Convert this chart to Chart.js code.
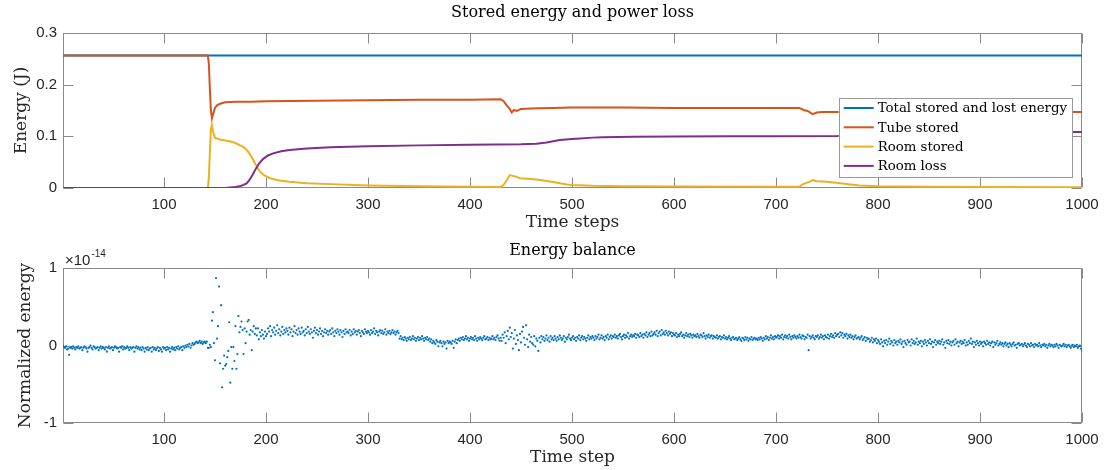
<!DOCTYPE html>
<html><head><meta charset="utf-8">
<script src="https://cdn.jsdelivr.net/npm/chart.js@4.4.1/dist/chart.umd.min.js"></script>
<style>
html,body{margin:0;padding:0;background:#fff;width:1108px;height:470px;overflow:hidden}
#top{position:absolute;left:0;top:0;width:1108px;height:240px}
#bot{position:absolute;left:0;top:240px;width:1108px;height:230px}
</style>
</head><body>
<div id="top"><canvas id="c1"></canvas></div>
<div id="bot"><canvas id="c2"></canvas></div>
<script>
// ---------- tick labels ----------
const stepTicks = [100,200,300,400,500,600,700,800,900,1000];
const energyTicks = [0,0.1,0.2,0.3];
const balanceTicks = [-1,0,1];

// ---------- top panel series (time step, energy J) ----------
const seriesLabels = ['Total stored and lost energy','Tube stored','Room stored','Room loss'];
const seriesColors = ['#0072BD','#D95319','#EDB120','#7E2F8E'];

const totalSteps  = [1,1000];
const totalValues = [0.2565,0.2565];

const tubeSteps  = [1,143,144,145,146,147,148,150,152,155,160,170,185,200,250,300,350,400,430,433,436,439,441,443,446,450,460,480,500,550,600,650,700,723,727,731,736,740,745,760,800,900,1000];
const tubeValues = [0.2565,0.2565,0.24,0.19,0.15,0.135,0.142,0.155,0.16,0.163,0.166,0.167,0.167,0.168,0.169,0.170,0.171,0.171,0.172,0.168,0.16,0.153,0.146,0.151,0.149,0.153,0.154,0.155,0.156,0.156,0.155,0.155,0.155,0.155,0.151,0.149,0.143,0.146,0.147,0.147,0.148,0.148,0.147];

const roomSteps  = [1,143,144,145,146,147,148,150,155,160,165,170,175,178,181,184,187,190,194,198,204,212,223,240,263,300,350,400,430,433,436,439,441,445,449,460,469,480,488,495,501,520,550,600,700,723,726,730,734,736,740,750,763,775,782,800,850,900,1000];
const roomValues = [0,0,0.02,0.07,0.115,0.122,0.11,0.097,0.094,0.092,0.09,0.087,0.082,0.079,0.074,0.066,0.056,0.045,0.032,0.025,0.019,0.015,0.012,0.009,0.0075,0.005,0.0035,0.0025,0.002,0.006,0.015,0.025,0.024,0.022,0.019,0.0175,0.0155,0.012,0.009,0.007,0.006,0.0045,0.0035,0.003,0.0025,0.0025,0.007,0.010,0.013,0.0155,0.013,0.012,0.009,0.0065,0.005,0.0035,0.0025,0.002,0.0015];

const lossSteps  = [1,160,170,175,178,181,184,187,190,193,197,202,207,215,223,240,263,300,350,400,450,465,475,488,500,508,520,530,560,600,650,700,760,775,790,805,820,850,900,1000];
const lossValues = [0,0,0.002,0.004,0.006,0.009,0.016,0.026,0.037,0.047,0.056,0.063,0.067,0.071,0.0735,0.0765,0.079,0.081,0.0825,0.0835,0.0845,0.0855,0.088,0.093,0.095,0.096,0.0975,0.098,0.099,0.0995,0.100,0.100,0.1005,0.102,0.104,0.106,0.107,0.1075,0.108,0.1085];

// ---------- bottom panel: normalized energy balance, hundredths of 1e-14, steps 1..1000 ----------
const BALANCE_UNIT = 0.01; // axis is in units of 1e-14
const balance001 = [
0,-2,-3,-1,-5,-4,-12,-3,-2,-4,-1,-3,-5,-2,-3,-1,-4,-3,-2,-6,
-3,-1,-2,-4,-8,-3,-2,0,-3,-5,-1,-2,-4,-3,-2,-6,-3,-1,-4,-2,
-3,-5,-2,-8,-3,-1,-4,-3,-2,-6,-3,-1,-2,-4,-3,-8,-2,-3,-1,-5,
-2,-4,-3,-1,-3,-6,-2,-4,-3,-2,-8,-3,-1,-4,-2,-5,-3,-6,-2,-4,
-8,-3,-5,-2,-6,-4,-3,-8,-2,-5,-3,-6,-4,-2,-7,-3,-5,-8,-2,-4];
const balance101 = [
-3,-6,-2,-5,-3,-8,-4,-2,-5,-3,-6,-2,-4,-1,-5,-3,-2,-6,-1,-3,
0,-2,1,-1,2,-3,0,3,1,2,4,5,3,4,6,3,5,2,4,5,
3,5,-3,-3,1,-2,32,43,3,-19,87,9,25,76,-23,52,-54,-30,-13,-26,
-24,-15,-7,30,-48,-2,-30,-2,-20,25,-30,-11,38,17,24,31,20,-11,22,3,
18,31,33,14,20,-6,18,25,15,22,13,22,8,17,12,20,14,9,18,12];
const balance201 = [
15,22,18,25,12,20,17,23,14,19,26,16,21,13,18,24,15,20,17,22,
19,14,23,17,21,12,18,25,16,20,14,22,18,15,23,17,19,13,21,16,
24,18,15,21,17,10,19,23,16,20,14,18,22,15,19,12,17,21,16,19,
14,18,20,15,22,17,12,19,16,21,18,14,20,17,11,19,15,21,17,18,
16,20,13,18,15,21,17,19,14,18,20,16,12,19,17,15,21,18,16,19];
const balance301 = [
17,14,20,16,18,22,15,19,17,13,18,20,16,19,15,17,21,14,18,16,
19,15,17,20,16,18,14,17,19,16,9,12,8,10,7,11,9,6,10,8,
11,7,9,12,8,10,6,9,11,7,10,8,12,9,6,10,8,11,7,9,
5,8,3,6,4,2,7,5,-1,4,6,3,-1,5,2,4,-4,6,3,5,
4,2,6,-3,5,8,3,7,9,6,10,8,11,7,9,12,8,10,6,9];
const balance401 = [
11,8,10,7,12,9,6,10,8,11,9,7,10,12,8,9,11,7,10,8,
9,12,8,10,7,11,13,9,6,10,6,14,10,17,3,12,19,8,23,11,
16,-4,9,20,2,13,7,-6,15,4,18,24,10,1,26,8,-2,14,5,11,
3,1,12,-1,9,6,-7,10,4,12,8,11,6,9,13,7,10,5,12,8,
10,7,12,9,6,11,8,13,10,7,9,12,5,10,8,11,14,9,7,10];
const balance501 = [
12,8,10,6,11,9,13,7,10,12,8,11,9,6,10,13,8,11,9,12,
10,7,12,9,11,14,8,10,13,9,11,7,12,10,14,8,11,13,9,12,
11,14,10,12,9,13,15,11,8,12,14,10,13,11,16,9,12,14,11,13,
12,15,10,14,13,11,16,12,14,10,15,13,17,11,14,16,12,18,13,15,
17,14,19,12,16,18,13,20,15,17,14,19,16,13,18,15,17,12,16,14];
const balance601 = [
13,16,11,14,12,15,17,12,14,10,13,16,12,14,11,15,13,10,14,12,
13,11,15,12,10,14,13,11,16,12,9,13,11,14,10,12,13,9,12,11,
10,13,9,11,12,8,11,10,13,9,11,8,10,12,9,7,10,11,8,9,
10,7,9,11,8,6,10,9,7,11,8,10,6,9,8,11,7,9,10,8,
9,7,10,8,11,9,6,10,8,12,9,11,7,10,13,9,11,8,12,10];
const balance701 = [
11,13,9,12,10,14,8,11,13,10,12,9,14,11,8,12,10,13,11,9,
12,10,14,11,9,13,12,8,11,10,14,-6,12,9,11,13,10,8,12,11,
13,9,11,14,10,12,8,13,11,10,14,9,12,15,11,13,10,16,12,14,
15,11,17,13,16,10,14,12,15,9,13,11,14,10,12,8,11,13,9,10,
11,8,10,12,7,9,11,6,10,8,9,5,7,10,4,8,6,9,3,7];
const balance801 = [
5,2,8,4,-1,6,3,7,1,5,9,2,6,4,0,7,3,5,1,6,
4,8,2,5,-2,6,3,1,7,4,5,0,8,3,6,2,4,9,1,5,
3,6,-1,5,2,7,4,0,6,3,8,2,5,-2,4,7,1,5,3,6,
2,5,8,1,4,-3,6,3,7,2,5,0,4,6,1,8,3,5,-1,4,
6,2,5,3,7,0,4,1,6,3,9,2,5,-2,4,1,6,3,0,5];
const balance901 = [
2,4,-1,5,3,1,6,2,4,0,3,5,-2,4,1,3,6,0,2,4,
1,3,-1,2,4,0,2,-2,3,1,-1,2,4,0,1,-3,2,3,0,1,
2,-1,1,3,0,-2,2,1,-1,3,0,1,-2,2,0,1,-1,3,0,-2,
1,0,2,-1,1,-3,0,2,-1,1,0,-2,1,-1,2,0,-3,1,0,-1,
0,2,-1,1,-2,0,1,-1,-3,0,1,-2,0,-1,1,-3,-1,0,-4,-7];
const balanceSegments = [balance001,balance101,balance201,balance301,balance401,balance501,balance601,balance701,balance801,balance901];

// ---------- helpers ----------
const SERIF = '"DejaVu Serif", serif';
const SANS = '"Liberation Sans", Arial, sans-serif';
const AX = '#262626';
Chart.defaults.font.family = SANS;
Chart.defaults.color = AX;

function pts(steps, vals){ return steps.map((s,i)=>({x:s, y:vals[i]})); }

const axesBox = {
  id:'axesBox',
  beforeDatasetsDraw(chart){
    const {ctx, chartArea:a, scales:{x,y}} = chart;
    const L=Math.round(a.left)+0.5, R=Math.round(a.right)-0.5, T=Math.round(a.top)+0.5, B=Math.round(a.bottom)-0.5;
    ctx.save();
    ctx.strokeStyle='#8a8a8a'; ctx.lineWidth=1;
    ctx.strokeRect(L,T,R-L,B-T);
    ctx.beginPath();
    x.ticks.forEach(t=>{ const p=Math.round(x.getPixelForValue(t.value))+0.5; ctx.moveTo(p,B); ctx.lineTo(p,B-10); ctx.moveTo(p,T); ctx.lineTo(p,T+10); });
    y.ticks.forEach(t=>{ const p=Math.round(y.getPixelForValue(t.value))+0.5; ctx.moveTo(L,p); ctx.lineTo(L+10,p); ctx.moveTo(R,p); ctx.lineTo(R-10,p); });
    ctx.stroke();
    ctx.restore();
  }
};

// panel title centred over the axes box (as in the original figure)
const panelTitle = {
  id:'panelTitle',
  afterDraw(chart, args, opts){
    const {ctx, chartArea:a} = chart;
    ctx.save();
    ctx.font = '16px '+SERIF;
    ctx.fillStyle = '#000'; ctx.textAlign='center'; ctx.textBaseline='middle';
    ctx.fillText(opts.text, (a.left+a.right)/2, a.top - opts.gap);
    ctx.restore();
  }
};

const boxLegend = {
  id:'boxLegend',
  afterDraw(chart){
    const {ctx, chartArea:a} = chart;
    ctx.save();
    ctx.font = '13.3px '+SERIF;
    const ds = chart.data.datasets;
    const tw = Math.max(...ds.map(d=>ctx.measureText(d.label).width));
    const rowH = 19.3, w = 5+30+4+tw+5, h = ds.length*rowH+2;
    const right = a.right-10, top = a.top+65;
    const left = right-w;
    ctx.fillStyle='#fff'; ctx.fillRect(left,top,w,h);
    ctx.strokeStyle='#9a9a9a'; ctx.lineWidth=1;
    ctx.strokeRect(Math.round(left)+0.5,Math.round(top)+0.5,Math.round(w),Math.round(h));
    ds.forEach((d,i)=>{
      const cy = top+10+i*rowH;
      ctx.strokeStyle=d.borderColor; ctx.lineWidth=2;
      ctx.beginPath(); ctx.moveTo(left+5,cy); ctx.lineTo(left+35,cy); ctx.stroke();
      ctx.fillStyle='#000'; ctx.textBaseline='middle'; ctx.textAlign='left';
      ctx.fillText(d.label,left+39,cy+1);
    });
    ctx.restore();
  }
};

const exponentLabel = {
  id:'exponentLabel',
  afterDraw(chart){
    const {ctx, chartArea:a} = chart;
    ctx.save();
    ctx.fillStyle=AX; ctx.textBaseline='alphabetic'; ctx.textAlign='left';
    ctx.font='15px '+SANS;
    const base='\u00d710';
    ctx.fillText(base, a.left+2, a.top-3);
    const w=ctx.measureText(base).width;
    ctx.font='10px '+SANS;
    ctx.fillText('-14', a.left+2+w+1, a.top-11);
    ctx.restore();
  }
};

function xScale(title, height, padBottom){
  return {
    type:'linear', min:1, max:1000,
    afterBuildTicks(s){ s.ticks = stepTicks.map(v=>({value:v})); },
    afterFit(s){ s.height = height; },
    grid:{display:false, drawTicks:false}, border:{display:false},
    ticks:{font:{size:15}, color:AX, padding:8, maxRotation:0, autoSkip:false, callback:v=>String(v)},
    title:{display:true, text:title, font:{family:SERIF, size:17}, color:AX, padding:{top:0,bottom:padBottom}}
  };
}
function yScale(title, min, max, tickVals, fmt, titlePad){
  return {
    min, max,
    afterBuildTicks(s){ s.ticks = tickVals.map(v=>({value:v})); },
    afterFit(s){ s.width = 63; },
    grid:{display:false, drawTicks:false}, border:{display:false},
    ticks:{font:{size:15}, color:AX, padding:6, callback:fmt},
    title:{display:true, text:title, font:{family:SERIF, size:17}, color:AX, padding:{top:titlePad,bottom:0}}
  };
}

// ---------- top chart ----------
const topData = [
  [totalSteps,totalValues],[tubeSteps,tubeValues],[roomSteps,roomValues],[lossSteps,lossValues]
];
new Chart(document.getElementById('c1'), {
  type:'line',
  data:{ datasets: topData.map((sv,i)=>({
    label: seriesLabels[i], data: pts(sv[0],sv[1]),
    borderColor: seriesColors[i], backgroundColor: seriesColors[i],
    borderWidth:2, pointRadius:0, tension:0, fill:false, order: 4-i
  }))},
  options:{
    responsive:true, maintainAspectRatio:false, animation:false, devicePixelRatio:1,
    parsing:false, normalized:true,
    layout:{padding:{left:0,right:26,top:33,bottom:0}},
    plugins:{
      legend:{display:false}, tooltip:{enabled:false}, title:{display:false},
      panelTitle:{text:'Stored energy and power loss', gap:20}
    },
    scales:{
      x: xScale('Time steps', 52, 7),
      y: yScale('Energy (J)', 0, 0.3, energyTicks, v=> v===0 ? '0' : v.toFixed(1), 11)
    }
  },
  plugins:[axesBox, boxLegend, panelTitle]
});

// ---------- bottom chart ----------
const balancePoints = balanceSegments.flatMap((seg,k)=>seg.map((v,i)=>({x:k*100+i+1, y:v*BALANCE_UNIT})));
new Chart(document.getElementById('c2'), {
  type:'scatter',
  data:{ datasets:[{ label:'Energy balance', data: balancePoints,
    pointRadius:1.1, pointBackgroundColor:'#0072BD', pointBorderWidth:0, borderColor:'#0072BD' }]},
  options:{
    responsive:true, maintainAspectRatio:false, animation:false, devicePixelRatio:1,
    parsing:false,
    layout:{padding:{left:0,right:26,top:28,bottom:0}},
    plugins:{
      legend:{display:false}, tooltip:{enabled:false}, title:{display:false},
      panelTitle:{text:'Energy balance', gap:17}
    },
    scales:{
      x: xScale('Time step', 47, 2),
      y: yScale('Normalized energy', -1, 1, balanceTicks, v=> String(v), 15)
    }
  },
  plugins:[axesBox, exponentLabel, panelTitle]
});
</script>
</body></html>
